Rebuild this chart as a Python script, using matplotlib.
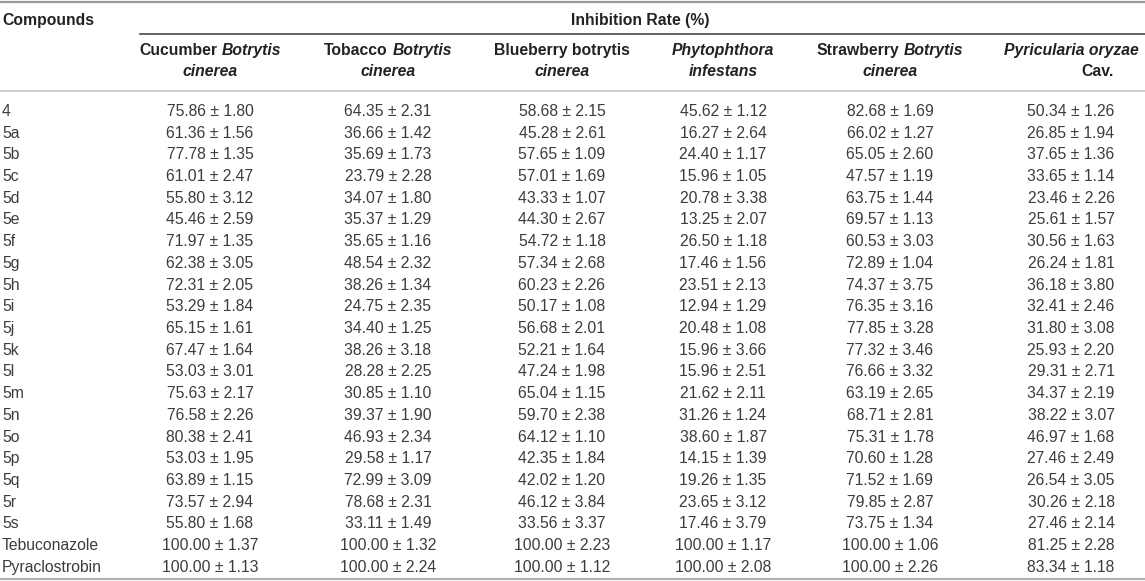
import matplotlib
matplotlib.use("Agg")
import matplotlib.pyplot as plt

# table content
compounds = ["4", "5a", "5b", "5c", "5d", "5e", "5f", "5g", "5h", "5i", "5j", "5k",
             "5l", "5m", "5n", "5o", "5p", "5q", "5r", "5s", "Tebuconazole",
             "Pyraclostrobin"]

cucumber = ["75.86 ± 1.80", "61.36 ± 1.56", "77.78 ± 1.35", "61.01 ± 2.47", "55.80 ± 3.12",
            "45.46 ± 2.59", "71.97 ± 1.35", "62.38 ± 3.05", "72.31 ± 2.05", "53.29 ± 1.84",
            "65.15 ± 1.61", "67.47 ± 1.64", "53.03 ± 3.01", "75.63 ± 2.17", "76.58 ± 2.26",
            "80.38 ± 2.41", "53.03 ± 1.95", "63.89 ± 1.15", "73.57 ± 2.94", "55.80 ± 1.68",
            "100.00 ± 1.37", "100.00 ± 1.13"]
tobacco = ["64.35 ± 2.31", "36.66 ± 1.42", "35.69 ± 1.73", "23.79 ± 2.28", "34.07 ± 1.80",
           "35.37 ± 1.29", "35.65 ± 1.16", "48.54 ± 2.32", "38.26 ± 1.34", "24.75 ± 2.35",
           "34.40 ± 1.25", "38.26 ± 3.18", "28.28 ± 2.25", "30.85 ± 1.10", "39.37 ± 1.90",
           "46.93 ± 2.34", "29.58 ± 1.17", "72.99 ± 3.09", "78.68 ± 2.31", "33.11 ± 1.49",
           "100.00 ± 1.32", "100.00 ± 2.24"]
blueberry = ["58.68 ± 2.15", "45.28 ± 2.61", "57.65 ± 1.09", "57.01 ± 1.69", "43.33 ± 1.07",
             "44.30 ± 2.67", "54.72 ± 1.18", "57.34 ± 2.68", "60.23 ± 2.26", "50.17 ± 1.08",
             "56.68 ± 2.01", "52.21 ± 1.64", "47.24 ± 1.98", "65.04 ± 1.15", "59.70 ± 2.38",
             "64.12 ± 1.10", "42.35 ± 1.84", "42.02 ± 1.20", "46.12 ± 3.84", "33.56 ± 3.37",
             "100.00 ± 2.23", "100.00 ± 1.12"]
phytophthora = ["45.62 ± 1.12", "16.27 ± 2.64", "24.40 ± 1.17", "15.96 ± 1.05", "20.78 ± 3.38",
                "13.25 ± 2.07", "26.50 ± 1.18", "17.46 ± 1.56", "23.51 ± 2.13", "12.94 ± 1.29",
                "20.48 ± 1.08", "15.96 ± 3.66", "15.96 ± 2.51", "21.62 ± 2.11", "31.26 ± 1.24",
                "38.60 ± 1.87", "14.15 ± 1.39", "19.26 ± 1.35", "23.65 ± 3.12", "17.46 ± 3.79",
                "100.00 ± 1.17", "100.00 ± 2.08"]
strawberry = ["82.68 ± 1.69", "66.02 ± 1.27", "65.05 ± 2.60", "47.57 ± 1.19", "63.75 ± 1.44",
              "69.57 ± 1.13", "60.53 ± 3.03", "72.89 ± 1.04", "74.37 ± 3.75", "76.35 ± 3.16",
              "77.85 ± 3.28", "77.32 ± 3.46", "76.66 ± 3.32", "63.19 ± 2.65", "68.71 ± 2.81",
              "75.31 ± 1.78", "70.60 ± 1.28", "71.52 ± 1.69", "79.85 ± 2.87", "73.75 ± 1.34",
              "100.00 ± 1.06", "100.00 ± 2.26"]
pyricularia = ["50.34 ± 1.26", "26.85 ± 1.94", "37.65 ± 1.36", "33.65 ± 1.14", "23.46 ± 2.26",
               "25.61 ± 1.57", "30.56 ± 1.63", "26.24 ± 1.81", "36.18 ± 3.80", "32.41 ± 2.46",
               "31.80 ± 3.08", "25.93 ± 2.20", "29.31 ± 2.71", "34.37 ± 2.19", "38.22 ± 3.07",
               "46.97 ± 1.68", "27.46 ± 2.49", "26.54 ± 3.05", "30.26 ± 2.18", "27.46 ± 2.14",
               "81.25 ± 2.28", "83.34 ± 1.18"]

# header lines: (text, italic?) pieces
headers = [
    ([("Cucumber", False), ("Botrytis", True)], [("cinerea", True)]),
    ([("Tobacco", False), ("Botrytis", True)], [("cinerea", True)]),
    ([("Blueberry botrytis", False)], [("cinerea", True)]),
    ([("Phytophthora", True)], [("infestans", True)]),
    ([("Strawberry", False), ("Botrytis", True)], [("cinerea", True)]),
    ([("Pyricularia oryzae", True)], [("Cav.", False)]),
]
columns = [cucumber, tobacco, blueberry, phytophthora, strawberry, pyricularia]

W, H = 1145, 581
FS = 11.3
TXT = "#3c3c3c"
HEAD = "#222222"
plt.rcParams["font.family"] = ["Liberation Sans", "DejaVu Sans"]

fig = plt.figure(figsize=(W / 100, H / 100), dpi=100)
ax = fig.add_axes([0, 0, 1, 1])
ax.set_xlim(0, W)
ax.set_ylim(H, 0)
ax.axis("off")

col_x = [210, 388, 562, 723, 890, 1071]
head2_x = [210, 388, 562, 723, 890, 1098]
row0, row_step = 111.5, 21.7

# rules
ax.plot([0, W], [1.5, 1.5], color="#9a9a9a", lw=1.6)
ax.plot([140, W], [33.5, 33.5], color="#4a4a4a", lw=1.2)
ax.plot([0, W], [91, 91], color="#c4c4c4", lw=1.2)
ax.plot([0, W], [579, 579], color="#b0b0b0", lw=1.6)

ax.text(2, 21, "Compounds", fontsize=FS, fontweight="bold", color=HEAD,
        ha="left", va="center")
ax.text(640, 21, "Inhibition Rate (%)", fontsize=FS, fontweight="bold",
        color=HEAD, ha="center", va="center")

renderer = fig.canvas.get_renderer()


def mixed_line(cx, y, parts):
    texts = []
    for s, ital in parts:
        t = ax.text(0, y, s, fontsize=FS, fontweight="bold",
                    fontstyle="italic" if ital else "normal",
                    color=HEAD, ha="left", va="center")
        texts.append(t)
    widths = [t.get_window_extent(renderer).width for t in texts]
    gap = FS * 100 / 72 * 0.28
    total = sum(widths) + gap * (len(texts) - 1)
    x = cx - total / 2
    for t, w in zip(texts, widths):
        t.set_x(x)
        x += w + gap


for i, (l1, l2) in enumerate(headers):
    mixed_line(col_x[i], 50.5, l1)
    mixed_line(head2_x[i], 71.5, l2)

for r, name in enumerate(compounds):
    y = row0 + r * row_step
    ax.text(2, y, name, fontsize=FS, color=TXT, ha="left", va="center")
    for c, vals in enumerate(columns):
        ax.text(col_x[c], y, vals[r], fontsize=FS, color=TXT, ha="center", va="center")

fig.savefig("out.png", dpi=100)
